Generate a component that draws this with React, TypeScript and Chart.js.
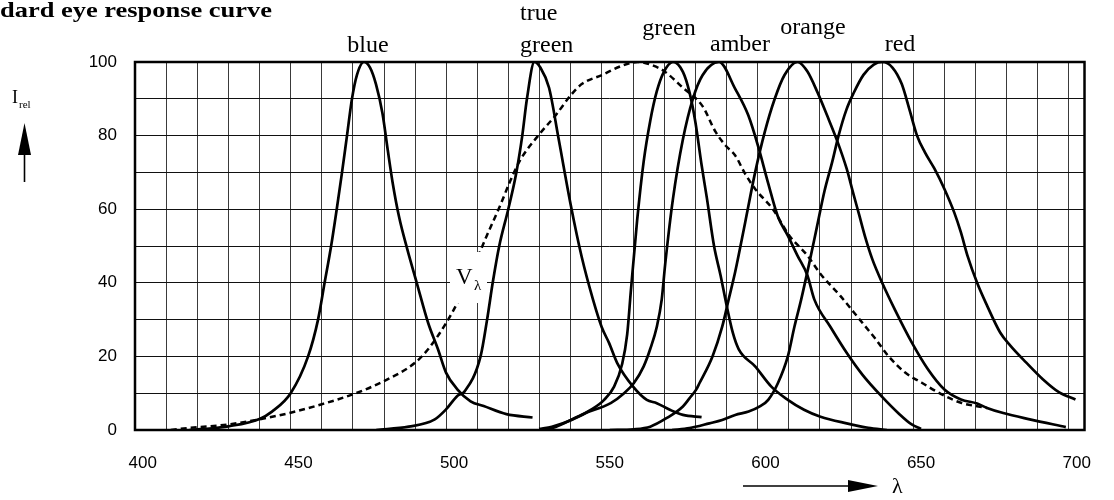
import { useEffect, useRef } from "react";
import { Chart, registerables } from "chart.js";

Chart.register(...registerables);

// ---- data (wavelength in nm, relative intensity in %) ----
const blueNm = [415, 420, 427.5, 437.5, 441.5, 447.5, 453.1, 456.3, 458.4, 460.5, 462.3, 464, 465.6, 467.2, 468.8, 471, 473, 474.9, 477, 478.7, 480.3, 482.3, 485, 488, 491.7, 494.8, 497.4, 501.1, 505.3, 509.5, 516.8, 525.2];
const blueRel = [0, 0.3, 1, 3, 5, 10, 20, 30, 40, 50, 60, 70, 80, 90, 96.5, 100, 98.5, 94, 86, 76, 67, 58, 49, 40, 29, 22, 15.6, 11, 7.8, 6.5, 4.3, 3.4];

const trueGreenNm = [475, 485.4, 493.8, 497.4, 501.1, 503.4, 508.5, 510.6, 512.4, 514.5, 517.4, 520, 521.9, 523.4, 525.8, 527.7, 530.5, 533.6, 537.5, 541, 544.6, 547.4, 549.8, 552.4, 557.5, 561.9, 565.1, 569.3, 573.5, 579.5];
const trueGreenRel = [0, 0.9, 2.9, 5.6, 9.3, 10.5, 20, 30, 40, 50, 60, 70, 80, 90, 100, 98.5, 93, 79, 61, 47, 35.5, 28, 23.6, 18.2, 11.8, 8.2, 7.3, 5.5, 4.1, 3.5];

const greenNm = [527.3, 531.4, 537.7, 544, 548.2, 551.4, 554, 555.6, 556.8, 558.8, 560.9, 563, 565.1, 567.2, 570.3, 573.5, 575.6, 577.5, 579.5, 581.2, 583.5, 585.6, 587.5, 589.5, 591.4, 596.7, 601.9, 607.2, 612.4, 617.7, 626.1, 633, 639];
const greenRel = [0.3, 0.9, 2.7, 5.5, 8.2, 11.8, 18, 26, 38, 57, 73, 84, 92, 97, 100, 97.3, 91.8, 83.7, 72, 63, 50, 42, 34, 26.5, 22, 17.3, 11.8, 8.2, 5.5, 3.6, 1.8, 0.6, 0];

const amberNm = [528, 531.4, 541.9, 550.3, 554.6, 557.7, 560.9, 563, 565.1, 566.7, 567.8, 570.3, 573.5, 576.7, 579.8, 585.1, 590.3, 594.5, 597.7, 600.9, 604, 607.2, 610.3, 613.5, 615.7, 620.9, 626.1, 631.2, 637.5, 642.8, 647, 650];
const amberRel = [0, 0.5, 4.5, 7.3, 10, 12.7, 17.3, 22, 28, 35.5, 45, 62.8, 79, 90, 96.4, 100, 92.7, 85.5, 77, 67, 58, 52.8, 47.4, 42, 35.5, 28, 21, 15, 9, 4.5, 1.5, 0.3];

const orangeNm = [550, 557.7, 563, 568.2, 573.5, 575.6, 577.7, 578.8, 583, 586.1, 588.2, 590.3, 593.5, 596.7, 599.8, 603, 606.1, 610.3, 613.5, 616.7, 619.8, 623, 626.1, 628, 630.1, 632.2, 634.3, 637.5, 641.7, 647, 652.2, 657.5, 662.8, 668, 671.2, 676.4, 684.9, 696.5];
const orangeRel = [0, 0.2, 0.9, 3.2, 6.4, 8.6, 10.9, 12.7, 20, 28, 35.5, 43, 56.4, 70, 81, 90, 96.4, 100, 97.4, 91.8, 85.5, 78.7, 71, 65, 58.5, 52, 46.5, 40, 32.5, 23.8, 16.5, 11, 8.3, 7.2, 6, 4.6, 2.9, 0.8];

const redNm = [570, 575.6, 582, 586.1, 590.3, 594.6, 598.2, 600.9, 604, 607.2, 609.3, 611.5, 614, 616.5, 619, 621.5, 623.5, 626, 628.3, 631.5, 634.8, 637.6, 640.8, 643.8, 646.3, 648.7, 651.2, 654.3, 657.5, 660.7, 662.8, 664.9, 668, 671.2, 675.4, 678.6, 683.8, 689.1, 694.4, 699.6];
const redRel = [0, 0.5, 1.8, 2.7, 4.1, 5, 6.4, 8.2, 12.7, 20, 28, 35.5, 45, 55, 65, 73, 80, 87, 91.5, 96.5, 99.3, 100, 98.5, 94, 87, 80, 75.5, 71, 65.5, 59, 53.7, 47.4, 40, 33.8, 26.5, 23, 18.3, 13.8, 10.2, 8.3];

const eyeNm = [409, 415.3, 427.5, 437.5, 447.5, 457.5, 467.5, 477.5, 487.5, 491.7, 497.4, 502.2, 507.6, 510.6, 514.8, 517.7, 521, 527.5, 532.6, 537.5, 541, 547.6, 554, 559, 564, 567.5, 573.5, 579.8, 584, 587.2, 590.3, 593.5, 596.7, 602.4, 607.7, 613.5, 617.7, 624, 630.3, 635.4, 639.6, 644.9, 650.1, 657.5, 662.8, 671.2];
const eyeRel = [0, 0.6, 1.5, 2.9, 4.7, 7, 9.7, 13.3, 18.3, 22, 29, 36.5, 47, 53, 61, 67, 73, 80.5, 85.5, 91, 94, 96.5, 99, 100, 99, 97.5, 93, 88, 81, 77.3, 74.6, 69.6, 65.5, 60, 52.8, 47.4, 42.4, 36.5, 30, 24.7, 20, 15.6, 12.9, 9.3, 7.4, 6];

const xLabelTicks = [400, 450, 500, 550, 600, 650, 700];
const xGridLines = [397.5, 407.5, 417.5, 427.5, 437.5, 447.5, 457.5, 467.5, 477.5, 487.5, 497.5, 507.5, 517.5, 527.5, 537.5, 547.5, 557.5, 567.5, 577.5, 587.5, 597.5, 607.5, 617.5, 627.5, 637.5, 647.5, 657.5, 667.5, 677.5, 687.5, 697.5];
const yGridLines = [0, 10, 20, 30, 40, 50, 60, 70, 80, 90, 100];
const yLabelStep = 20;

const titleText = "dard eye response curve";
const curveLabels = [
  { text: "blue", x: 368, y: 52, align: "center" },
  { text: "true", x: 520, y: 20, align: "left" },
  { text: "green", x: 520, y: 52, align: "left" },
  { text: "green", x: 669, y: 35, align: "center" },
  { text: "amber", x: 740, y: 51, align: "center" },
  { text: "orange", x: 813, y: 34, align: "center" },
  { text: "red", x: 900, y: 51, align: "center" },
];

const pts = (xs: number[], ys: number[]) => xs.map((x, i) => ({ x, y: ys[i] }));

const SERIF = '"Liberation Serif", "Times New Roman", serif';
const SANS = '"Liberation Sans", Arial, sans-serif';

const decorPlugin = {
  id: "decor",
  afterDraw(chart: any) {
    const { ctx, chartArea } = chart;
    ctx.save();
    // frame
    ctx.strokeStyle = "#000";
    ctx.lineWidth = 2.5;
    ctx.strokeRect(chartArea.left, chartArea.top, chartArea.right - chartArea.left, chartArea.bottom - chartArea.top);

    // V lambda label with white box
    ctx.fillStyle = "#fff";
    ctx.fillRect(450, 252, 37, 51);
    ctx.fillStyle = "#000";
    ctx.font = `23px ${SERIF}`;
    ctx.textAlign = "left";
    ctx.textBaseline = "alphabetic";
    ctx.fillText("V", 456, 284);
    ctx.font = `15px ${SERIF}`;
    ctx.fillText("λ", 474, 290);

    // curve labels
    ctx.font = `24px ${SERIF}`;
    for (const l of curveLabels) {
      ctx.textAlign = l.align as CanvasTextAlign;
      ctx.fillText(l.text, l.x, l.y);
    }

    // title (clipped at left, as in the source)
    ctx.font = `bold 22px ${SERIF}`;
    ctx.textAlign = "left";
    const w = ctx.measureText(titleText).width;
    ctx.save();
    ctx.translate(0, 17);
    ctx.scale(272 / w, 1);
    ctx.fillText(titleText, 0, 0);
    ctx.restore();

    // I_rel label
    ctx.font = `18px ${SERIF}`;
    ctx.fillText("I", 12, 103);
    ctx.font = `11px ${SERIF}`;
    ctx.fillText("rel", 19, 108);

    // up arrow
    ctx.beginPath();
    ctx.moveTo(24.5, 123);
    ctx.lineTo(31, 155);
    ctx.lineTo(18, 155);
    ctx.closePath();
    ctx.fill();
    ctx.lineWidth = 1.6;
    ctx.beginPath();
    ctx.moveTo(24.5, 154);
    ctx.lineTo(24.5, 182);
    ctx.stroke();

    // right arrow and lambda
    ctx.beginPath();
    ctx.moveTo(743, 486);
    ctx.lineTo(850, 486);
    ctx.stroke();
    ctx.beginPath();
    ctx.moveTo(878, 486);
    ctx.lineTo(848, 480);
    ctx.lineTo(848, 492);
    ctx.closePath();
    ctx.fill();
    ctx.font = `22px ${SERIF}`;
    ctx.fillText("λ", 892, 493);
    ctx.restore();
  },
};

export default function App() {
  const ref = useRef<HTMLCanvasElement | null>(null);

  useEffect(() => {
    if (!ref.current) return;
    const solid = (xs: number[], ys: number[]) => ({
      data: pts(xs, ys),
      borderColor: "#000",
      borderWidth: 2.7,
      pointRadius: 0,
      fill: false,
      tension: 0.4,
      cubicInterpolationMode: "monotone" as const,
      xAxisID: "x",
      yAxisID: "y",
    });
    const chart = new Chart(ref.current, {
      type: "line",
      data: {
        datasets: [
          solid(blueNm, blueRel),
          solid(trueGreenNm, trueGreenRel),
          solid(greenNm, greenRel),
          solid(amberNm, amberRel),
          solid(orangeNm, orangeRel),
          solid(redNm, redRel),
          { ...solid(eyeNm, eyeRel), borderWidth: 2.5, borderDash: [6, 4] },
        ],
      },
      options: {
        animation: false,
        responsive: true,
        maintainAspectRatio: false,
        devicePixelRatio: 1,
        layout: { padding: { left: 0, top: 62, right: 11, bottom: 0 } },
        plugins: { legend: { display: false }, tooltip: { enabled: false } },
        scales: {
          x: {
            type: "linear",
            position: "bottom",
            min: 397.5,
            max: 702.5,
            afterBuildTicks: (s: any) => {
              s.ticks = xLabelTicks.map((v) => ({ value: v }));
            },
            afterFit: (s: any) => {
              s.height = 70;
            },
            grid: { display: false, drawTicks: false },
            border: { display: false },
            ticks: {
              color: "#000",
              font: { family: SANS, size: 17 },
              padding: 23,
              maxRotation: 0,
              autoSkip: false,
              callback: (v: any) => String(v),
            },
          },
          xg: {
            type: "linear",
            position: "bottom",
            min: 397.5,
            max: 702.5,
            afterBuildTicks: (s: any) => {
              s.ticks = xGridLines.map((v) => ({ value: v }));
            },
            afterFit: (s: any) => {
              s.height = 0;
            },
            grid: { color: "#3a3a3a", lineWidth: 1, drawTicks: false },
            border: { display: false },
            ticks: { display: false },
          },
          y: {
            type: "linear",
            min: 0,
            max: 100,
            afterBuildTicks: (s: any) => {
              s.ticks = yGridLines.map((v) => ({ value: v }));
            },
            afterFit: (s: any) => {
              s.width = 135;
            },
            grid: { color: "#111", lineWidth: 1, drawTicks: false },
            border: { display: false },
            ticks: {
              color: "#000",
              font: { family: SANS, size: 17 },
              padding: 18,
              autoSkip: false,
              callback: (v: any) => (Number(v) % yLabelStep === 0 ? String(v) : ""),
            },
          },
        },
      } as any,
      plugins: [decorPlugin],
    });
    return () => chart.destroy();
  }, []);

  return (
    <div style={{ position: "absolute", left: 0, top: 0, width: 1114, height: 500, background: "#fff" }}>
      <canvas ref={ref} />
    </div>
  );
}
